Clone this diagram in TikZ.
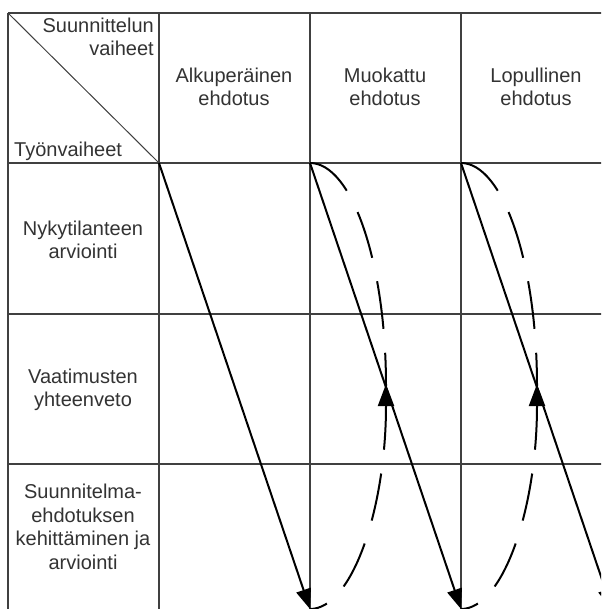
\documentclass[tikz,border=0pt]{standalone}
\usepackage{fontspec}
\setmainfont{Liberation Sans}
\usetikzlibrary{arrows.meta}
\begin{document}
\begin{tikzpicture}[x=1pt,y=-1pt,
  gridline/.style={line width=1.6pt, draw=black!75},
  diagline/.style={line width=1pt, draw=black!75},
  lbl/.style={font=\fontsize{20}{23.5}\selectfont, align=center, inner sep=0pt, text=black!80},
  flow/.style={line width=2pt, -{Triangle[length=20pt,width=15pt]}},
  loopline/.style={line width=2pt, dash pattern=on 48pt off 24pt},
  looparrow/.style={line width=2pt, dash pattern=on 48pt off 24pt, dash phase=30pt, -{Triangle[length=22pt,width=16pt]}},
]
\useasboundingbox (0,0) rectangle (601,609);
\clip (0,0) rectangle (601,609);
\fill[white] (0,0) rectangle (601,609);

% grid
\foreach \y in {13,163,314,464} \draw[gridline] (8,\y) -- (620,\y);
\foreach \x in {8,159,310,461} \draw[gridline] (\x,13) -- (\x,620);
\draw[diagline] (8,13) -- (159,163);

% header texts
\node[lbl, align=right, anchor=east] (hdrA) at (154,37) {Suunnittelun\\vaiheet};
\node[lbl, align=left, anchor=west] (hdrB) at (14,151) {Työnvaiheet};
\node[lbl] (col1) at (234,87) {Alkuperäinen\\ehdotus};
\node[lbl] (col2) at (385,87) {Muokattu\\ehdotus};
\node[lbl] (col3) at (536,87) {Lopullinen\\ehdotus};
\node[lbl] (row1) at (83,240) {Nykytilanteen\\arviointi};
\node[lbl] (row2) at (83,390) {Vaatimusten\\yhteenveto};
\node[lbl] (row3) at (83,527) {Suunnitelma-\\ehdotuksen\\kehittäminen ja\\arviointi};

% corner coordinates
\coordinate (c1) at (159,163);
\coordinate (c2) at (310,163);
\coordinate (c3) at (461,163);
\coordinate (b1) at (310,609);
\coordinate (b2) at (461,609);
\coordinate (b3) at (612,609);
\coordinate (m2) at (386,384);
\coordinate (m3) at (537,384);

% solid flows
\draw[flow] (c1) -- (b1);
\draw[flow] (c2) -- (b2);
\draw[flow] (c3) -- (b3);

% dashed feedback loops
\draw[loopline] (c2) .. controls (352,163) and (386,263) .. (386,386);
\draw[looparrow] (b1) .. controls (352,609) and (386,509) .. (m2);
\draw[loopline] (c3) .. controls (503,163) and (537,263) .. (537,386);
\draw[looparrow] (b2) .. controls (503,609) and (537,509) .. (m3);
\end{tikzpicture}
\end{document}
